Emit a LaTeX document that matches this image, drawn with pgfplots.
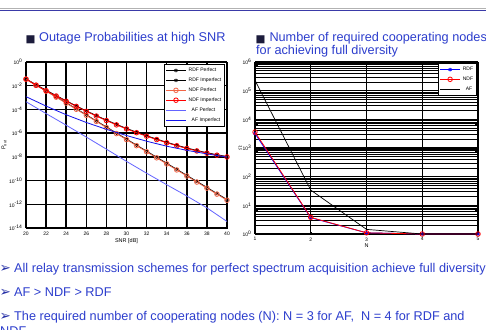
\documentclass[border=0pt]{standalone}
\usepackage{pgfplots}
\pgfplotsset{compat=1.18}
\usepackage{pgfplotstable}
\usepackage{fontspec}
\setmainfont{Liberation Sans}
\newfontfamily\dejavu{DejaVu Sans}
\definecolor{slideblue}{RGB}{45,62,205}
\definecolor{arrowblue}{RGB}{35,45,165}
\definecolor{navy}{RGB}{28,28,60}
\definecolor{topline}{RGB}{58,58,168}
\definecolor{ndfP}{RGB}{240,100,70}
\definecolor{afP}{RGB}{100,100,255}
\definecolor{afI}{RGB}{20,20,235}

\pgfplotstableread{
snr rdfP ndfP rdfI ndfI
20 3.72e-2 3.60e-2 3.72e-2 3.60e-2
21 1.15e-2 1.10e-2 1.20e-2 1.10e-2
22 3.63e-3 3.45e-3 4.17e-3 3.80e-3
23 1.15e-3 1.08e-3 1.48e-3 1.35e-3
24 3.63e-4 3.39e-4 5.37e-4 4.90e-4
25 1.12e-4 1.04e-4 2.00e-4 1.82e-4
26 3.47e-5 3.20e-5 7.59e-5 6.90e-5
27 1.07e-5 9.80e-6 3.02e-5 2.75e-5
28 3.31e-6 3.00e-6 1.26e-5 1.15e-5
29 1.02e-6 9.20e-7 5.50e-6 5.00e-6
30 3.16e-7 2.85e-7 2.51e-6 2.28e-6
31 9.77e-8 8.80e-8 1.20e-6 1.09e-6
32 3.02e-8 2.70e-8 6.03e-7 5.50e-7
33 9.33e-9 8.30e-9 3.16e-7 2.88e-7
34 2.88e-9 2.55e-9 1.70e-7 1.55e-7
35 8.91e-10 7.90e-10 9.55e-8 8.70e-8
36 2.75e-10 2.45e-10 5.62e-8 5.10e-8
37 8.51e-11 7.50e-11 3.47e-8 3.16e-8
38 2.63e-11 2.30e-11 2.24e-8 2.04e-8
39 8.13e-12 7.20e-12 1.51e-8 1.38e-8
40 2.51e-12 2.20e-12 1.07e-8 9.80e-9
}\leftdata

\pgfplotstableread{
snr afP afI
20 4.47e-4 1.20e-3
22 4.47e-5 1.91e-4
24 4.68e-6 3.55e-5
26 4.68e-7 7.94e-6
28 4.47e-8 2.09e-6
30 4.17e-9 6.31e-7
32 4.17e-10 2.09e-7
34 4.47e-11 7.94e-8
36 5.01e-12 3.55e-8
38 5.01e-13 1.78e-8
40 3.55e-14 9.55e-9
}\afdata

\pgfplotstableread{
N rdf ndf af
1 3200 3600 2.3e5
2 3.7 3.8 34
3 1.1 1.1 1.45
4 1 1 1
5 1 1 1
}\rightdata

\pgfplotsset{
  every axis/.append style={
    /pgf/number format/assume math mode=true,
    tick label style={font=\fontsize{5}{6}\selectfont},
    label style={font=\fontsize{5.5}{6.5}\selectfont},
    axis line style={black, line width=0.7pt},
    major tick length=2pt,
    tick style={black, line width=0.5pt},
    yticklabel={10\textsuperscript{\pgfmathparse{int(round(\tick))}\pgfmathresult}},
    legend image code/.code={\draw[mark repeat=2,mark phase=2,#1] plot coordinates {(0cm,0cm)(0.35cm,0cm)(0.7cm,0cm)};},
  }
}

\begin{document}
\begin{tikzpicture}[x=1pt,y=1pt]
\useasboundingbox (0,0) rectangle (486,329);
\fill[white] (0,0) rectangle (486,329);
\draw[gray!60, line width=0.6pt] (0,320.2) -- (486,320.2);
\draw[topline, line width=1.4pt] (0,318.6) -- (486,318.6);

% titles
\node[anchor=base west, inner sep=0, text=navy, font=\dejavu\fontsize{10.5}{11}\selectfont] at (25.5,286.5) {■};
\node[anchor=base west, inner sep=0, text=slideblue, font=\fontsize{12.7}{15}\selectfont] at (39,287) {Outage Probabilities at high SNR};
\node[anchor=base west, inner sep=0, text=navy, font=\dejavu\fontsize{10.5}{11}\selectfont] at (255.5,286.5) {■};
\node[anchor=base west, inner sep=0, text=slideblue, font=\fontsize{12.7}{15}\selectfont] at (269.3,287) {Number of required cooperating nodes};
\node[anchor=base west, inner sep=0, text=slideblue, font=\fontsize{12.7}{15}\selectfont] at (256,274) {for achieving full diversity};

\begin{axis}[
  at={(26pt,101pt)}, anchor=south west, scale only axis,
  width=201pt, height=166pt,
  ymode=log, log basis y=10,
  xmin=20, xmax=40, ymin=1e-14, ymax=1,
  xtick={20,22,...,40},
  ytick={1,1e-2,1e-4,1e-6,1e-8,1e-10,1e-12,1e-14},
  yminorticks=false,
  grid=major,
  major grid style={draw=black, line width=1.4pt},
  xlabel={SNR [dB]}, ylabel={P\textsubscript{out}},
  xlabel style={yshift=3pt},
  ylabel style={yshift=-4pt},
  clip mode=individual,
  legend style={at={(0.99,0.99)}, anchor=north east, font=\fontsize{5}{6}\selectfont,
    draw=black, line width=0.7pt, inner xsep=1pt, inner ysep=1.5pt,
    nodes={inner sep=2.4pt}, legend cell align=left},
]
\addplot[black, line width=0.8pt, mark=asterisk, mark size=1.8pt] table[x=snr,y=rdfP] {\leftdata};
\addlegendentry{RDF Perfect}
\addplot[black, line width=0.8pt, mark=asterisk, mark size=1.8pt] table[x=snr,y=rdfI] {\leftdata};
\addlegendentry{RDF Imperfect}
\addplot[ndfP, line width=0.8pt, mark=o, mark size=2.3pt] table[x=snr,y=ndfP] {\leftdata};
\addlegendentry{NDF Perfect}
\addplot[red, line width=0.8pt, mark=o, mark size=2.3pt] table[x=snr,y=ndfI] {\leftdata};
\addlegendentry{NDF Imperfect}
\addplot[afP, line width=0.8pt] table[x=snr,y=afP] {\afdata};
\addlegendentry{\hspace{3pt}AF Perfect}
\addplot[afI, line width=0.8pt] table[x=snr,y=afI] {\afdata};
\addlegendentry{\hspace{3pt}AF Imperfect}
\end{axis}

\begin{axis}[
  at={(255pt,95pt)}, anchor=south west, scale only axis,
  width=223pt, height=172pt,
  ymode=log, log basis y=10,
  xmin=1, xmax=5, ymin=1, ymax=1e6,
  xtick={1,2,3,4,5},
  ytick={1,10,100,1000,1e4,1e5,1e6},
  minor ytick={2,3,4,5,6,7,8,9,20,30,40,50,60,70,80,90,200,300,400,500,600,700,800,900,2000,3000,4000,5000,6000,7000,8000,9000,20000,30000,40000,50000,60000,70000,80000,90000,200000,300000,400000,500000,600000,700000,800000,900000},
  grid=both,
  xminorticks=false,
  major grid style={draw=black, line width=1.3pt},
  minor grid style={draw=black, line width=0.6pt},
  xlabel={N}, ylabel={$\Omega$},
  xlabel style={yshift=4pt},
  ylabel style={yshift=-6pt},
  clip mode=individual,
  legend style={at={(0.995,0.995)}, anchor=north east, font=\fontsize{5}{6}\selectfont,
    draw=black, line width=0.7pt, inner xsep=1pt, inner ysep=1.5pt, fill=white,
    nodes={inner sep=2.4pt}, legend cell align=left},
]
\addplot[blue, line width=0.8pt, mark=asterisk, mark size=1.8pt] table[x=N,y=rdf] {\rightdata};
\addlegendentry{RDF}
\addplot[red, line width=0.8pt, mark=o, mark size=2.3pt] table[x=N,y=ndf] {\rightdata};
\addlegendentry{NDF}
\addplot[black, line width=0.7pt] table[x=N,y=af] {\rightdata};
\addlegendentry{\hspace{3pt}AF}
\end{axis}

% bottom text
\foreach \yy in {56.3,33,9}{
  \node[anchor=base west, inner sep=0, text=arrowblue, font=\dejavu\fontsize{13.5}{15}\selectfont] at (-0.5,\yy) {➢};
}
\node[anchor=base west, inner sep=0, text=slideblue, font=\fontsize{12.7}{15}\selectfont] at (14,56.3) {All relay transmission schemes for perfect spectrum acquisition achieve full diversity};
\node[anchor=base west, inner sep=0, text=slideblue, font=\fontsize{12.7}{15}\selectfont] at (14,33) {AF > NDF > RDF};
\node[anchor=base west, inner sep=0, text=slideblue, font=\fontsize{12.7}{15}\selectfont] at (14,9) {The required number of cooperating nodes (N): N = 3 for AF,\ \ N = 4 for RDF and};
\node[anchor=base west, inner sep=0, text=slideblue, font=\fontsize{12.7}{15}\selectfont] at (0,-6) {NDF};
\end{tikzpicture}
\end{document}
